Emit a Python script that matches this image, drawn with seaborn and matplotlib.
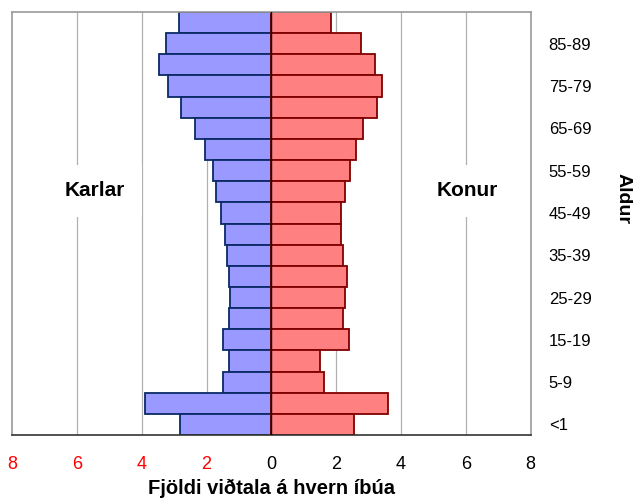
import pandas as pd
import matplotlib
matplotlib.use('Agg')
import matplotlib.pyplot as plt
import seaborn as sns

# age groups, bottom to top
ages = ['<1', '1-4', '5-9', '10-14', '15-19', '20-24', '25-29', '30-34',
        '35-39', '40-44', '45-49', '50-54', '55-59', '60-64', '65-69',
        '70-74', '75-79', '80-84', '85-89', '90+']
karlar = [2.81, 3.91, 1.49, 1.31, 1.49, 1.31, 1.27, 1.31, 1.37, 1.43,
          1.54, 1.70, 1.81, 2.04, 2.36, 2.80, 3.19, 3.46, 3.25, 2.86]
konur = [2.55, 3.60, 1.61, 1.49, 2.39, 2.22, 2.27, 2.32, 2.22, 2.16,
         2.16, 2.26, 2.44, 2.60, 2.83, 3.26, 3.41, 3.21, 2.76, 1.84]

df = pd.DataFrame({'aldur': ages, 'karlar': [-v for v in karlar], 'konur': konur})
order = ages[::-1]

sns.set_style('white')
plt.rcParams['font.family'] = ['Liberation Sans', 'DejaVu Sans']
plt.rcParams['text.color'] = 'black'
plt.rcParams['axes.labelcolor'] = 'black'
plt.rcParams['xtick.color'] = 'black'
plt.rcParams['ytick.color'] = 'black'

fig = plt.figure(figsize=(6.34, 5), dpi=100)
ax = fig.add_axes([0.019, 0.13, 0.818, 0.846])

sns.barplot(data=df, x='karlar', y='aldur', order=order, orient='y', width=1.0,
            color='#9999FF', saturation=1, edgecolor='#0A2A66', linewidth=1.3, ax=ax)
sns.barplot(data=df, x='konur', y='aldur', order=order, orient='y', width=1.0,
            color='#FF8080', saturation=1, edgecolor='#800000', linewidth=1.3, ax=ax)

ax.set_xlim(-8, 8)
ax.set_ylim(len(ages) - 0.5, -0.5)
ax.set_axisbelow(True)
for gx in [-6, -4, -2, 2, 4, 6]:
    ax.axvline(gx, color='#B0B0B0', lw=0.9, zorder=0)
ax.axvline(0, color='black', lw=1.0, zorder=3)

# x ticks with absolute values, left side in red
xt = list(range(-8, 9, 2))
ax.set_xticks(xt)
ax.set_xticklabels([str(abs(v)) for v in xt], fontsize=13)
for lab, v in zip(ax.get_xticklabels(), xt):
    lab.set_color('red' if v < 0 else 'black')
ax.tick_params(axis='x', direction='out', length=5, width=1, color='#333333', pad=10)

# y labels on the right, every other group
ax.yaxis.tick_right()
ax.set_yticks([order.index(a) for a in ages[::2]])
ax.set_yticklabels(ages[::2], fontsize=12)
ax.tick_params(axis='y', length=0, pad=13)
ax.yaxis.set_label_position('right')
ax.set_ylabel('Aldur', fontsize=14, fontweight='bold', rotation=270)
ax.yaxis.set_label_coords(1.195, 0.56)
ax.set_xlabel('Fjöldi viðtala á hvern íbúa', fontsize=14.5, fontweight='bold', labelpad=4)

for side in ['top', 'left', 'right']:
    ax.spines[side].set_color('#999999')
    ax.spines[side].set_linewidth(1.2)
ax.spines['bottom'].set_color('#333333')
ax.spines['bottom'].set_linewidth(1.2)

ax.text(-5.45, 7.95, 'Karlar', ha='center', va='center', fontsize=15, fontweight='bold',
        bbox=dict(facecolor='white', edgecolor='none', pad=12), zorder=2)
ax.text(6.05, 7.95, 'Konur', ha='center', va='center', fontsize=15, fontweight='bold',
        bbox=dict(facecolor='white', edgecolor='none', pad=12), zorder=2)

fig.savefig('out.png', dpi=100)
